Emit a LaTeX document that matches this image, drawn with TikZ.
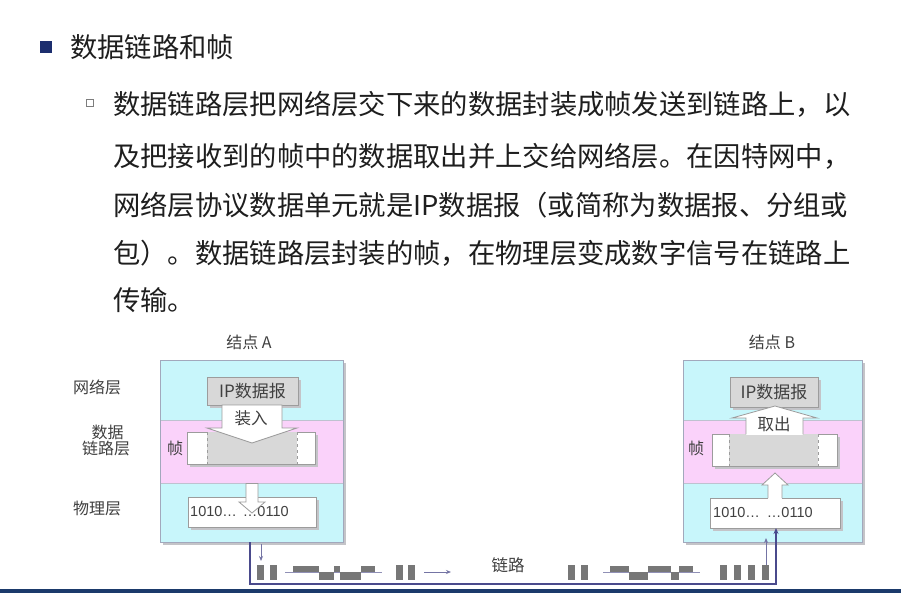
\documentclass[tikz,border=0pt]{standalone}
\usepackage{fontspec}
\setmainfont{Noto Sans CJK SC}
\newfontfamily\latinf{Liberation Sans}
\usetikzlibrary{arrows.meta}
\definecolor{txt}{HTML}{1E1E1E}
\definecolor{navy}{HTML}{1C2E6E}
\definecolor{cyanb}{HTML}{C8F6FB}
\definecolor{pinkb}{HTML}{FAD2FA}
\definecolor{boxline}{HTML}{A2A8BC}
\definecolor{shadowc}{HTML}{C4C4C8}
\definecolor{ipfill}{HTML}{D8D8D8}
\definecolor{ipline}{HTML}{9C9C9C}
\definecolor{linkc}{HTML}{4A4A8C}
\definecolor{thinc}{HTML}{7474A4}
\definecolor{barc}{HTML}{777777}
\definecolor{botbar}{HTML}{1B3A6B}
\begin{document}
\begin{tikzpicture}[x=1pt,y=-1pt,
  maintext/.style={anchor=west,inner sep=0pt,text=txt,font=\fontsize{27.3pt}{32pt}\selectfont},
  lbl/.style={inner sep=0pt,text=txt!85,font=\fontsize{16pt}{18pt}\selectfont},
  outerbox/.style={draw=boxline,line width=0.9pt,inner sep=0pt,outer sep=0pt},
  ipbox/.style={draw=ipline,fill=ipfill,line width=0.8pt,inner sep=0pt,outer sep=0pt,text=txt!85,font=\fontsize{17pt}{19pt}\selectfont},
  whitebox/.style={draw=ipline,fill=white,line width=0.8pt,inner sep=0pt,outer sep=0pt},
  bigarrow/.style={draw=ipline,fill=white,line width=0.8pt,line join=miter},
  link/.style={draw=linkc,line width=1.4pt},
  thinarrow/.style={draw=thinc,line width=0.8pt,-{Stealth[length=5pt,width=4pt]}},
  sigbar/.style={fill=barc},
  baseline/.style={draw=thinc!80,line width=0.8pt},
  bits/.style={anchor=west,inner sep=0pt,text=txt!85,font=\latinf\fontsize{14.5pt}{16pt}\selectfont}
]
\useasboundingbox (0,0) rectangle (901,593);
\fill[white] (0,0) rectangle (901,593);

% ---------- header text ----------
\fill[navy] (40,41) rectangle (52,53);
\node[maintext] (title) at (70,47) {数据链路和帧};
\draw[ipline!80!black,line width=1pt] (86,100) rectangle (93,107);
\node[maintext] (l1) at (113,104) {数据链路层把网络层交下来的数据封装成帧发送到链路上，以};
\node[maintext] (l2) at (113,156) {及把接收到的帧中的数据取出并上交给网络层。在因特网中，};
\node[maintext] (l3) at (113,205) {网络层协议数据单元就是IP数据报（或简称为数据报、分组或};
\node[maintext] (l4) at (113,253) {包）。数据链路层封装的帧，在物理层变成数字信号在链路上};
\node[maintext] (l5) at (113,300) {传输。};

% ---------- left labels ----------
\node[lbl] (netl) at (97,387) {网络层};
\node[lbl,align=center] (dll) at (106,440) {\hspace*{0.2em}数据\\[-2pt]链路层};
\node[lbl] (phyl) at (97,508) {物理层};

% ---------- node A ----------
\node[lbl] (titA) at (249,342) {结点 A};
\fill[shadowc] (163,363) rectangle (346,545);
\fill[cyanb] (160,360) rectangle (343,420);
\fill[pinkb] (160,420) rectangle (343,483);
\fill[cyanb] (160,483) rectangle (343,542);
\draw[boxline!70,line width=0.6pt] (160,420) -- (343,420) (160,483) -- (343,483);
\node[outerbox,minimum width=183pt,minimum height=182pt] (nodeA) at (251.5,451) {};

\fill[shadowc] (210,380) rectangle (301,408);
\node[ipbox,minimum width=91pt,minimum height=28pt] (ipA) at (252.5,391) {IP数据报};

\fill[shadowc] (190,435) rectangle (318,467);
\node[whitebox,minimum width=128pt,minimum height=32pt] (frameA) at (251,448) {};
\fill[ipfill] (207,432.4) rectangle (297,463.6);
\draw[ipline,dashed,line width=0.7pt] (207,432.4) -- (207,463.6) (297,432.4) -- (297,463.6);
\node[lbl] (zhenA) at (175,448) {帧};

\draw[bigarrow] (222,405) -- (282,405) -- (282,428) -- (297,428) -- (252,443) -- (207,428) -- (222,428) -- cycle;
\node[lbl,font=\fontsize{16.5pt}{18pt}\selectfont] (zhuang) at (251,418) {装入};

\fill[shadowc] (191,500) rectangle (319,530);
\node[whitebox,minimum width=128pt,minimum height=30pt] (physA) at (252,512) {};
\node[bits] (bitsA) at (190,512) {1010…\hspace{6pt}…0110};
\draw[bigarrow] (246,483.5) -- (258,483.5) -- (258,502) -- (265,502) -- (252,513) -- (239,502) -- (246,502) -- cycle;

% ---------- node B ----------
\node[lbl] (titB) at (772,342) {结点 B};
\fill[shadowc] (686,363) rectangle (865,545);
\fill[cyanb] (683,360) rectangle (862,420);
\fill[pinkb] (683,420) rectangle (862,483);
\fill[cyanb] (683,483) rectangle (862,542);
\draw[boxline!70,line width=0.6pt] (683,420) -- (862,420) (683,483) -- (862,483);
\node[outerbox,minimum width=179pt,minimum height=182pt] (nodeB) at (772.5,451) {};

\fill[shadowc] (733,380) rectangle (821,410);
\node[ipbox,minimum width=88pt,minimum height=30pt] (ipB) at (774,392) {IP数据报};

\fill[shadowc] (715,437) rectangle (840,469);
\node[whitebox,minimum width=125pt,minimum height=32pt] (frameB) at (774.5,450) {};
\fill[ipfill] (729,434.4) rectangle (818,465.6);
\draw[ipline,dashed,line width=0.7pt] (729,434.4) -- (729,465.6) (818,434.4) -- (818,465.6);
\node[lbl] (zhenB) at (696,448) {帧};

\fill[white] (746,418) rectangle (803,434.8);
\draw[bigarrow,fill=white] (746,434.4) -- (746,418) -- (732,418) -- (775,406) -- (817,418) -- (803,418) -- (803,434.4);
\node[lbl,font=\fontsize{16.5pt}{18pt}\selectfont] (quchu) at (774,424) {取出};

\fill[shadowc] (713,501) rectangle (843,531);
\node[whitebox,minimum width=130pt,minimum height=30pt] (physB) at (775,513) {};
\node[bits] (bitsB) at (713,513) {1010…\hspace{7pt}…0110};
\fill[white] (768.4,484) rectangle (781.6,498.6);
\draw[bigarrow] (768,498) -- (768,485) -- (762,485) -- (775,473) -- (788,485) -- (782,485) -- (782,498);

% ---------- link ----------
\coordinate (la) at (250,542);
\coordinate (lb) at (250,584);
\coordinate (lc) at (776,584);
\coordinate (ld) at (776,528);
\draw[link,-{Stealth[length=6pt,width=5pt]}] (la) -- (lb) -- (lc) -- (ld);

\coordinate (ta1) at (261,544);
\coordinate (ta2) at (261,561);
\draw[thinarrow] (ta1) -- (ta2);
\coordinate (tb1) at (766,566);
\coordinate (tb2) at (766,538);
\draw[thinarrow] (tb1) -- (tb2);
\coordinate (ar1) at (424,572);
\coordinate (ar2) at (451,572);
\draw[thinarrow] (ar1) -- (ar2);

\node[lbl,font=\fontsize{16.5pt}{18pt}\selectfont] (lianlu) at (508,565) {链路};

% bars
\foreach \x in {257,270,396,408,568,581,720,734,748,762}
  \fill[sigbar] (\x,565) rectangle ++(7,15);
% wave 1
\draw[baseline] (285,572) -- (382,572);
\foreach \a/\b in {293/319,334/340,361/375} \fill[sigbar] (\a,565.5) rectangle (\b,572);
\foreach \a/\b in {319/334,340/361} \fill[sigbar] (\a,572) rectangle (\b,580);
% wave 2
\draw[baseline] (603,572) -- (700,572);
\foreach \a/\b in {610/629,648/671,679/693} \fill[sigbar] (\a,565.5) rectangle (\b,572);
\foreach \a/\b in {629/648,671/679} \fill[sigbar] (\a,572) rectangle (\b,580);

% bottom bar
\fill[botbar] (0,588.5) rectangle (901,593);
\end{tikzpicture}
\end{document}
